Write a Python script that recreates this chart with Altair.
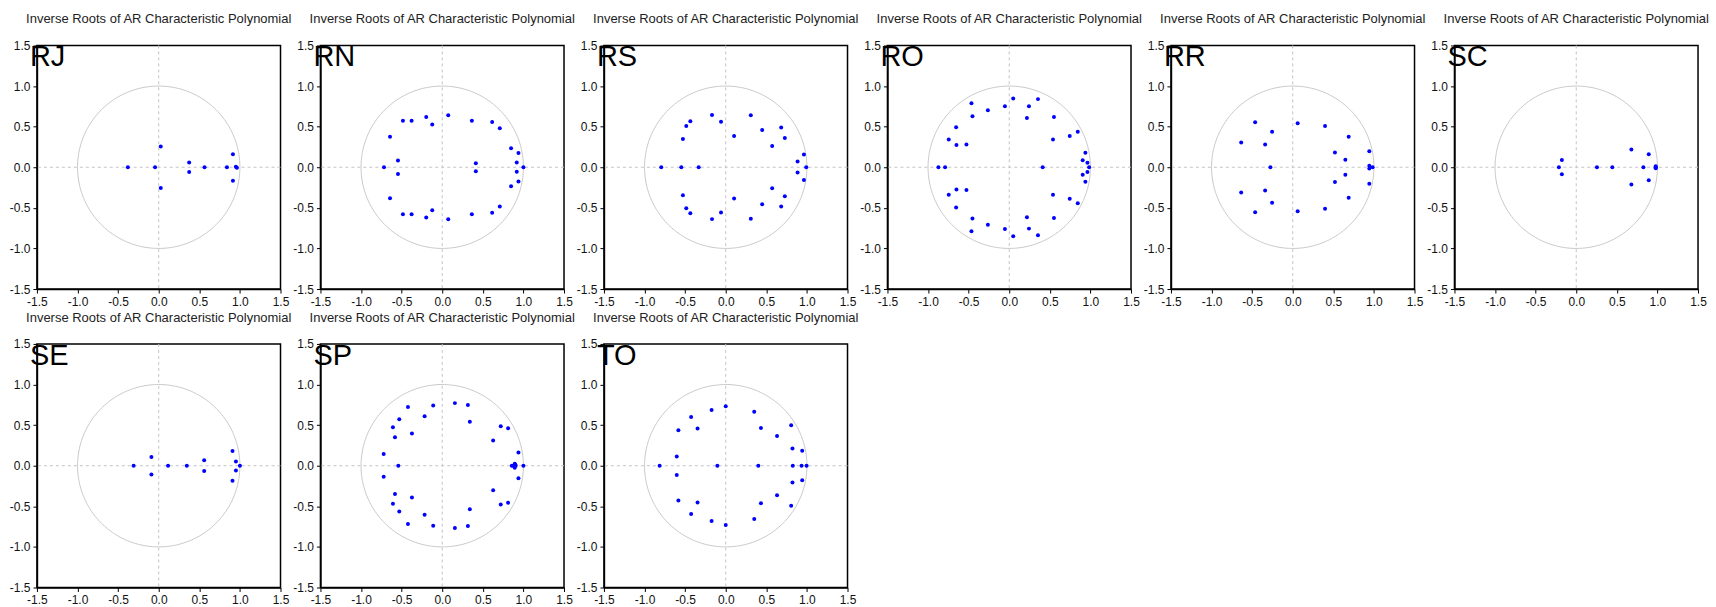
import altair as alt
import pandas as pd
import numpy as np

TITLE = "Inverse Roots of AR Characteristic Polynomial"
PANELS = ["RJ", "RN", "RS", "RO", "RR", "SC", "SE", "SP", "TO"]
TICKS = [-1.5, -1.0, -0.5, 0.0, 0.5, 1.0, 1.5]

RJ_re = [-0.38, -0.045, 0.025, 0.025, 0.375, 0.375, 0.564, 0.84, 0.914, 0.914, 0.95, 0.963]
RJ_im = [0.0, 0.0, 0.255, -0.255, 0.058, -0.058, 0.0, 0.0, 0.16, -0.165, 0.005, -0.005]

RN_re = [0.074, 0.074, 0.365, 0.365, 0.615, 0.615, 0.709, 0.709, 0.848, 0.848, 0.939, 0.939,
         0.918, 0.918, 1.0, 0.414, 0.414, -0.123, -0.123, -0.197, -0.197, -0.377, -0.377,
         -0.484, -0.484, -0.643, -0.643, -0.545, -0.545, -0.717]
RN_im = [0.64, -0.64, 0.574, -0.578, 0.557, -0.561, 0.48, -0.484, 0.234, -0.234, 0.176, -0.176,
         0.057, -0.057, 0.0, 0.049, -0.049, 0.525, -0.529, 0.619, -0.619, 0.574, -0.578,
         0.574, -0.578, 0.377, -0.381, 0.082, -0.082, 0.0]

RS_re = [-0.794, -0.547, -0.333, -0.527, -0.527, -0.486, -0.486, -0.436, -0.436, -0.169, -0.169,
         -0.058, -0.058, 0.103, 0.103, 0.309, 0.309, 0.449, 0.449, 0.572, 0.572, 0.683, 0.683,
         0.728, 0.728, 0.963, 0.963, 0.885, 0.885, 0.992]
RS_im = [0.0, 0.0, 0.0, 0.348, -0.344, 0.508, -0.504, 0.566, -0.566, 0.643, -0.639,
         0.561, -0.557, 0.385, -0.385, 0.639, -0.635, 0.459, -0.455, 0.262, -0.258, 0.488, -0.484,
         0.361, -0.357, 0.156, -0.156, 0.070, -0.066, 0.0]

RO_re = [-0.872, -0.79, -0.745, -0.745, -0.654, -0.654, -0.65, -0.65, -0.527, -0.527, -0.465, -0.465,
         -0.453, -0.453, -0.263, -0.263, -0.053, -0.053, 0.049, 0.049, 0.243, 0.243, 0.218, 0.218,
         0.354, 0.354, 0.551, 0.551, 0.539, 0.539, 0.412, 0.745, 0.745, 0.844, 0.844, 0.938, 0.938,
         0.905, 0.905, 0.963, 0.963, 0.984]
RO_im = [0.0, 0.0, 0.343, -0.339, 0.492, -0.496, 0.273, -0.273, 0.281, -0.281, 0.789, -0.789,
         0.628, -0.632, 0.702, -0.707, 0.752, -0.76, 0.847, -0.851, 0.752, -0.756, 0.607, -0.616,
         0.839, -0.839, 0.62, -0.624, 0.343, -0.339, 0.0, 0.384, -0.388, 0.438, -0.442, 0.178, -0.178,
         0.087, -0.091, 0.054, -0.058, 0.0]

RR_re = [-0.635, -0.635, -0.463, -0.463, -0.254, -0.254, -0.34, -0.34, -0.275, 0.061, 0.061,
         0.398, 0.398, 0.52, 0.52, 0.648, 0.648, 0.689, 0.689, 0.943, 0.943, 0.943, 0.943, 0.984]
RR_im = [0.306, -0.31, 0.554, -0.554, 0.438, -0.438, 0.281, -0.285, 0.0, 0.541, -0.541,
         0.508, -0.512, 0.182, -0.182, 0.091, -0.091, 0.376, -0.376, 0.198, -0.202, 0.017, -0.017, 0.0]

SC_re = [-0.214, -0.177, -0.177, 0.255, 0.444, 0.679, 0.679, 0.827, 0.893, 0.893, 0.979, 0.979, 0.979]
SC_im = [0.0, 0.09, -0.086, 0.0, 0.0, 0.218, -0.214, 0.0, 0.16, -0.16, 0.012, -0.012, 0.0]

SE_re = [-0.309, -0.09, -0.09, 0.115, 0.346, 0.56, 0.56, 0.909, 0.909, 0.951, 0.951, 1.0]
SE_im = [0.0, 0.107, -0.107, 0.0, 0.0, 0.066, -0.066, 0.181, -0.185, 0.053, -0.058, 0.0]

SP_re = [0.156, 0.156, 0.316, 0.316, 0.34, 0.34, -0.111, -0.111, -0.217, -0.217, -0.422, -0.422,
         -0.529, -0.529, -0.607, -0.607, -0.582, -0.582, -0.373, -0.373, -0.721, -0.721, -0.541,
         0.627, 0.627, 0.721, 0.721, 0.811, 0.811, 0.939, 0.939, 1.0,
         0.857, 0.877, 0.893, 0.893, 0.905, 0.9]
SP_im = [0.771, -0.767, 0.747, -0.743, 0.543, -0.535, 0.743, -0.739, 0.608, -0.604, 0.722, -0.718,
         0.571, -0.563, 0.473, -0.469, 0.351, -0.347, 0.396, -0.392, 0.143, -0.135, 0.0,
         0.31, -0.302, 0.486, -0.478, 0.461, -0.457, 0.163, -0.155, 0.0,
         0.0, 0.0, 0.025, -0.025, 0.0, 0.012]

TO_re = [-0.814, -0.603, -0.603, -0.583, -0.583, -0.426, -0.426, -0.347, -0.347, -0.174, -0.174,
         -0.103, 0.0, 0.0, 0.351, 0.351, 0.434, 0.434, 0.401, 0.632, 0.632, 0.806, 0.806,
         0.822, 0.822, 0.942, 0.942, 0.826, 0.934, 0.996]
TO_im = [0.0, 0.114, -0.114, 0.437, -0.429, 0.6, -0.596, 0.457, -0.453, 0.686, -0.682,
         0.0, 0.731, -0.731, 0.665, -0.657, 0.465, -0.461, 0.0, 0.367, -0.363, 0.498, -0.494,
         0.212, -0.208, 0.184, -0.18, 0.0, 0.0, 0.0]

ROOTS = {
    "RJ": (RJ_re, RJ_im), "RN": (RN_re, RN_im), "RS": (RS_re, RS_im),
    "RO": (RO_re, RO_im), "RR": (RR_re, RR_im), "SC": (SC_re, SC_im),
    "SE": (SE_re, SE_im), "SP": (SP_re, SP_im), "TO": (TO_re, TO_im),
}

FONT = "Liberation Sans"
LABEL_EXPR = "replace(format(datum.value, '.1f'), '\u2212', '-')"

xscale = alt.Scale(domain=[-1.5, 1.5], nice=False, zero=False)
yscale = alt.Scale(domain=[-1.5, 1.5], nice=False, zero=False)


def axis():
    return alt.Axis(values=TICKS, labelExpr=LABEL_EXPR, title=None, grid=False,
                    domainColor="black", domainWidth=1.5, tickColor="black", tickSize=4,
                    labelPadding=3, labelFont=FONT, labelFontSize=12, labelColor="#111",
                    labelOverlap=False, labelFlush=False)


# unit circle (reference geometry)
theta = np.linspace(0, 2 * np.pi, 241)
circle_df = pd.DataFrame({"x": np.cos(theta), "y": np.sin(theta), "o": np.arange(len(theta))})
zero_df = pd.DataFrame({"v": [0.0]})


def panel(name):
    re, im = ROOTS[name]
    pts = pd.DataFrame({"re": re, "im": im})
    vrule = alt.Chart(zero_df).mark_rule(color="#c4c4c4", strokeDash=[3, 3], strokeWidth=1).encode(
        x=alt.X("v:Q", scale=xscale, axis=axis()))
    hrule = alt.Chart(zero_df).mark_rule(color="#c4c4c4", strokeDash=[3, 3], strokeWidth=1).encode(
        y=alt.Y("v:Q", scale=yscale, axis=axis()))
    circ = alt.Chart(circle_df).mark_line(color="#c8c8c8", strokeWidth=1).encode(
        x=alt.X("x:Q", scale=xscale, axis=axis()),
        y=alt.Y("y:Q", scale=yscale, axis=axis()),
        order="o:Q")
    dots = alt.Chart(pts).mark_circle(color="#0000ff", opacity=1, size=16).encode(
        x=alt.X("re:Q", scale=xscale, axis=axis()),
        y=alt.Y("im:Q", scale=yscale, axis=axis()))
    lab = alt.Chart(pd.DataFrame({"t": [name]})).mark_text(
        align="left", baseline="alphabetic", font=FONT, fontSize=29, color="black").encode(
        x=alt.value(-7), y=alt.value(21), text="t:N")
    return alt.layer(vrule, hrule, circ, dots, lab).properties(
        width=244, height=244,
        title=alt.TitleParams(TITLE, font=FONT, fontSize=13, fontWeight="normal", color="#222",
                              anchor="middle", frame="group", baseline="alphabetic", offset=3),
    )


chart = alt.ConcatChart(
    concat=[panel(n) for n in PANELS],
    columns=6,
    spacing={"row": 55, "column": 40},
    bounds="flush",
    padding={"left": 8, "top": 12, "right": 5, "bottom": 5},
).configure_view(stroke="black", strokeWidth=1.5)

chart.save("out.html", embed_options={"renderer": "svg", "actions": False})
